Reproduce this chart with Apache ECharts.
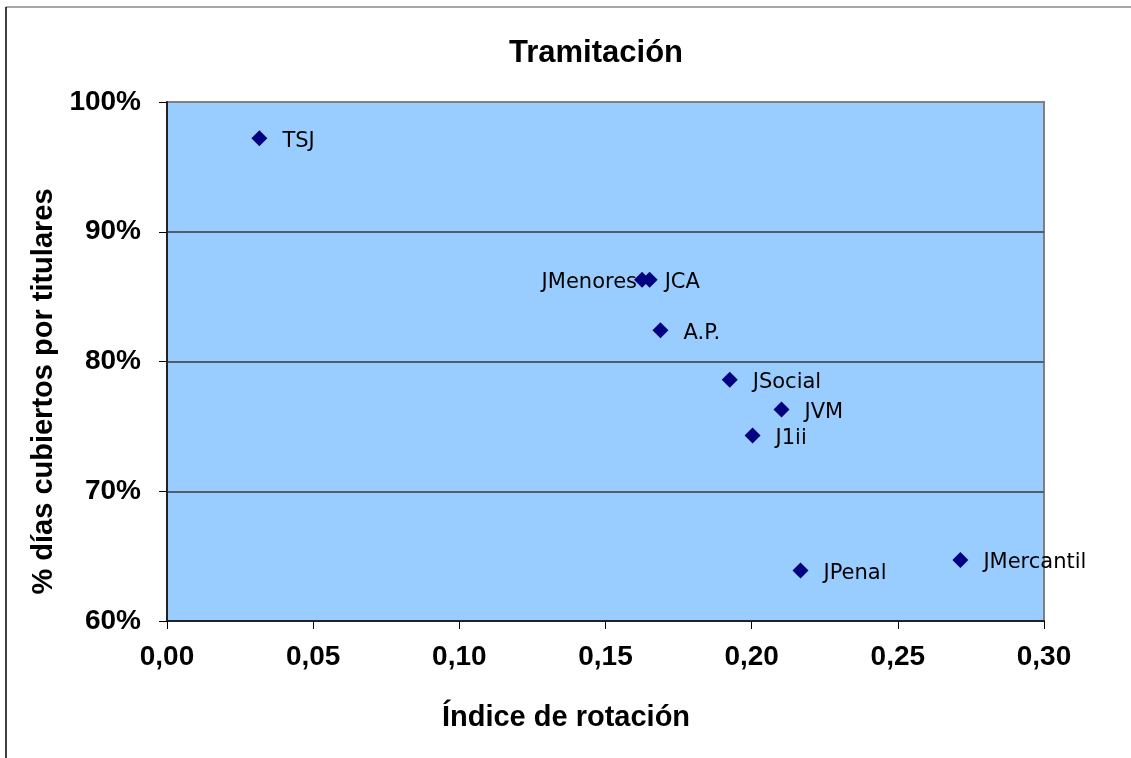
<!DOCTYPE html>
<html>
<head>
<meta charset="utf-8">
<title>Tramitación</title>
<script src="https://cdn.jsdelivr.net/npm/echarts@6/dist/echarts.min.js"></script>
<style>
  html, body { margin: 0; padding: 0; background: #ffffff; }
  #chart { width: 1131px; height: 758px; }
</style>
</head>
<body>
<div id="chart"></div>
<script>
// Organos judiciales: índice de rotación vs % de días cubiertos por titulares
const organos = ['TSJ', 'JMenores', 'JCA', 'A.P.', 'JSocial', 'JVM', 'J1ii', 'JPenal', 'JMercantil'];
const indiceRotacion = [0.0316, 0.1625, 0.1651, 0.1688, 0.1925, 0.2102, 0.2003, 0.2167, 0.2714];
const pctCubiertos = [97.2, 86.3, 86.3, 82.4, 78.6, 76.3, 74.3, 63.9, 64.7];

const SYMBOL_SIZE = 16;
// Label anchor relative to the marker box (styling only)
const labelTweaks = {
  'JMenores': { side: 'left', gap: -3 },
  'JCA': { side: 'right', gap: 7 }
};

const LABEL_FONT = '"DejaVu Sans", Verdana, sans-serif';
const AXIS_FONT = '"Liberation Sans", Arial, sans-serif';

const points = organos.map((name, i) => {
  const t = labelTweaks[name] || {};
  const side = t.side || 'right';
  const gap = t.gap !== undefined ? t.gap : 15;
  const x = side === 'right' ? SYMBOL_SIZE + gap : -gap;
  return {
    name: name,
    value: [indiceRotacion[i], pctCubiertos[i]],
    label: {
      position: [x, SYMBOL_SIZE / 2 + 3],
      align: side === 'right' ? 'left' : 'right',
      verticalAlign: 'middle'
    }
  };
});

const chart = echarts.init(document.getElementById('chart'), null, { renderer: 'canvas' });

chart.setOption({
  animation: false,
  backgroundColor: '#ffffff',
  title: {
    text: 'Tramitación',
    left: 591,
    top: 33,
    textAlign: 'center',
    textStyle: { fontFamily: AXIS_FONT, fontWeight: 'bold', fontSize: 31, color: '#000000' }
  },
  grid: {
    left: 167,
    right: 87,
    top: 102,
    bottom: 137,
    show: true,
    backgroundColor: '#99ccff',
    borderColor: '#808080',
    borderWidth: 2
  },
  xAxis: {
    type: 'value',
    min: 0,
    max: 0.30,
    interval: 0.05,
    name: 'Índice de rotación',
    nameLocation: 'middle',
    nameGap: 82,
    nameTextStyle: {
      fontFamily: AXIS_FONT, fontWeight: 'bold', fontSize: 29, color: '#000000',
      padding: [0, 79, 0, 0]
    },
    axisLine: { show: true, onZero: false, lineStyle: { color: '#222222', width: 2 } },
    axisTick: { show: true, inside: false, length: 8, lineStyle: { color: '#000000', width: 1 } },
    axisLabel: {
      margin: 22,
      fontFamily: AXIS_FONT, fontWeight: 'bold', fontSize: 28, color: '#000000',
      formatter: v => v.toFixed(2).replace('.', ',')
    },
    splitLine: { show: false }
  },
  yAxis: {
    type: 'value',
    min: 60,
    max: 100,
    interval: 10,
    name: '% días cubiertos por titulares',
    nameLocation: 'middle',
    nameGap: 108,
    nameTextStyle: {
      fontFamily: AXIS_FONT, fontWeight: 'bold', fontSize: 29, color: '#000000',
      padding: [0, 60, 0, 0]
    },
    axisLine: { show: true, onZero: false, lineStyle: { color: '#222222', width: 2 } },
    axisTick: { show: true, inside: false, length: 8, lineStyle: { color: '#000000', width: 1 } },
    axisLabel: {
      margin: 26,
      fontFamily: AXIS_FONT, fontWeight: 'bold', fontSize: 28, color: '#000000',
      formatter: v => v + '%'
    },
    splitLine: {
      show: true,
      showMinLine: false,
      showMaxLine: false,
      lineStyle: { color: '#4f5d6e', width: 2 }
    }
  },
  series: [{
    type: 'scatter',
    data: points,
    symbol: 'diamond',
    symbolSize: SYMBOL_SIZE,
    itemStyle: { color: '#000080', opacity: 1 },
    label: {
      show: true,
      formatter: '{b}',
      fontFamily: LABEL_FONT,
      fontSize: 21,
      color: '#000000',
      opacity: 1
    },
    labelLayout: { hideOverlap: false }
  }],
  graphic: [
    { type: 'line', shape: { x1: 6, y1: 7, x2: 1131, y2: 7 }, style: { stroke: '#8a8a8a', lineWidth: 1.5 } },
    { type: 'line', shape: { x1: 6, y1: 7, x2: 6, y2: 758 }, style: { stroke: '#000000', lineWidth: 1.5 } }
  ]
});
</script>
</body>
</html>
